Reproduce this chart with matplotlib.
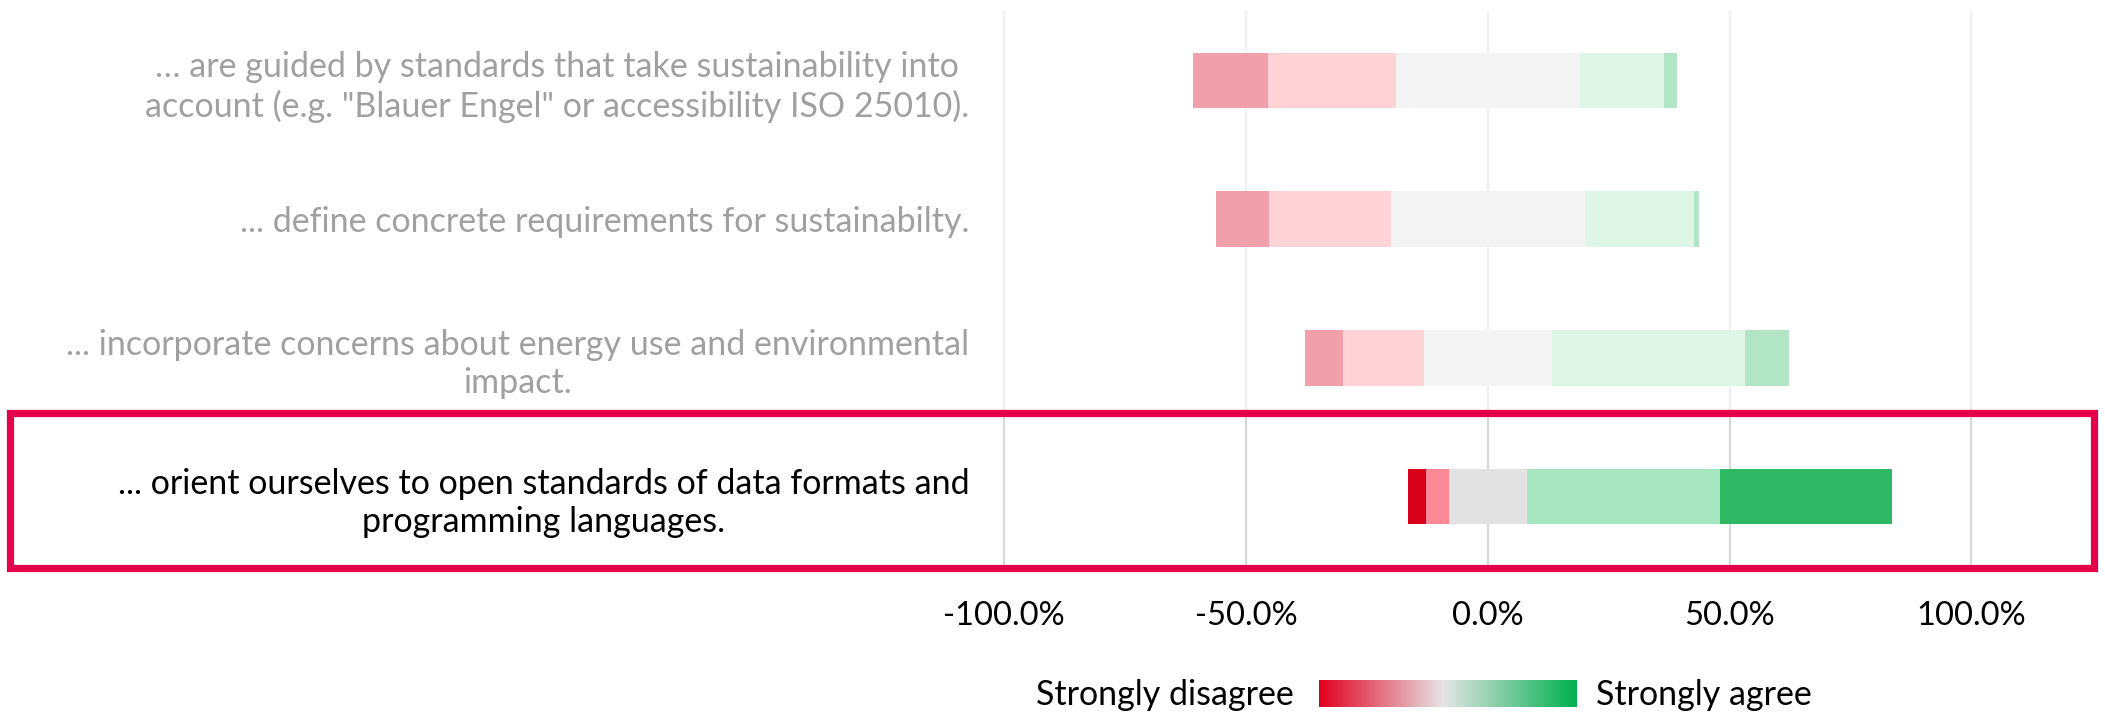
import numpy as np
import matplotlib
matplotlib.use("Agg")
import matplotlib.pyplot as plt
from matplotlib.patches import Rectangle
from matplotlib.colors import LinearSegmentedColormap
from matplotlib.ticker import FuncFormatter

plt.rcParams['font.family'] = ['Lato', 'DejaVu Sans']

# ---- data (percent of respondents) ----
categories = [
    '… are guided by standards that take sustainability into\naccount (e.g. "Blauer Engel" or accessibility ISO 25010).',
    '... define concrete requirements for sustainabilty.',
    '... incorporate concerns about energy use and environmental\nimpact.',
    '... orient ourselves to open standards of data formats and\nprogramming languages.',
]
strongly_disagree = [15.5, 10.9, 7.8, 3.8]
disagree          = [26.5, 25.2, 16.8, 4.6]
neutral           = [38.0, 40.1, 26.4, 16.2]
agree             = [17.5, 22.6, 40.0, 39.9]
strongly_agree    = [2.6, 1.1, 9.0, 35.5]
xticks = [-100, -50, 0, 50, 100]
legend_left, legend_right = "Strongly disagree", "Strongly agree"

colors = ['#d9001b', '#fb8a96', '#e2e2e2', '#a8e6c1', '#30b766']

W, H = 2105, 714
fig = plt.figure(figsize=(W / 100, H / 100), dpi=100)

# axes geometry (pixel-based)
px0 = 1487.8
ppp = 4.837  # pixels per percent
xlo, xhi = -102, 102
ax_left = (px0 + xlo * ppp) / W
ax_w = (xhi - xlo) * ppp / W
ax_top_px, ax_bot_px = 11, 566
ax = fig.add_axes([ax_left, 1 - ax_bot_px / H, ax_w, (ax_bot_px - ax_top_px) / H])

y = np.arange(len(categories))
sd = np.array(strongly_disagree)
d = np.array(disagree)
n = np.array(neutral)
a = np.array(agree)
sa = np.array(strongly_agree)

left = -(sd + d + n / 2)
segs = [sd, d, n, a, sa]
cur = left.copy()
for vals, c in zip(segs, colors):
    ax.barh(y, vals, left=cur, height=0.4, color=c, edgecolor='none', zorder=3)
    cur = cur + vals

ax.set_xlim(xlo, xhi)
ax.set_ylim(len(categories) - 0.5, -0.5)
ax.set_xticks(xticks)
ax.xaxis.set_major_formatter(FuncFormatter(lambda v, p: f"{v:.1f}%"))
ax.grid(axis='x', color='#d9d9d9', linewidth=1.6, zorder=0)
ax.set_axisbelow(True)
for s in ax.spines.values():
    s.set_visible(False)
ax.tick_params(axis='both', length=0, colors='black')
ax.tick_params(axis='x', pad=25, labelsize=23.5)
ax.tick_params(axis='y', pad=18, labelsize=24.5)
ax.set_yticks(y)
ax.set_yticklabels(categories, multialignment='center', linespacing=1.25)

# fade overlay over the non-highlighted rows
fade_bottom_px = 409
fig.add_artist(Rectangle((0, 1 - fade_bottom_px / H), 1, fade_bottom_px / H,
                         transform=fig.transFigure, facecolor='white',
                         alpha=0.63, edgecolor='none', zorder=10))

# highlight box
bx0, bx1 = 9.7, 2094
by0, by1 = 413, 568
fig.add_artist(Rectangle((bx0 / W, 1 - by1 / H), (bx1 - bx0) / W, (by1 - by0) / H,
                         transform=fig.transFigure, facecolor='none',
                         edgecolor='#e4004b', linewidth=5.2, zorder=11))

# gradient legend
cmap = LinearSegmentedColormap.from_list(
    'lik', [(0, '#e00020'), (0.48, '#e6e4e6'), (1, '#00b050')])
gx0, gx1, gy0, gy1 = 1319, 1577, 680, 707
gax = fig.add_axes([gx0 / W, 1 - gy1 / H, (gx1 - gx0) / W, (gy1 - gy0) / H])
gax.imshow(np.linspace(0, 1, 256)[None, :], aspect='auto', cmap=cmap)
gax.axis('off')
base_y = 1 - 705 / H
fig.text(1294 / W, base_y, legend_left, ha='right', va='baseline', fontsize=24.5)
fig.text(1596 / W, base_y, legend_right, ha='left', va='baseline', fontsize=24.5)

fig.savefig('out.png', dpi=100)
